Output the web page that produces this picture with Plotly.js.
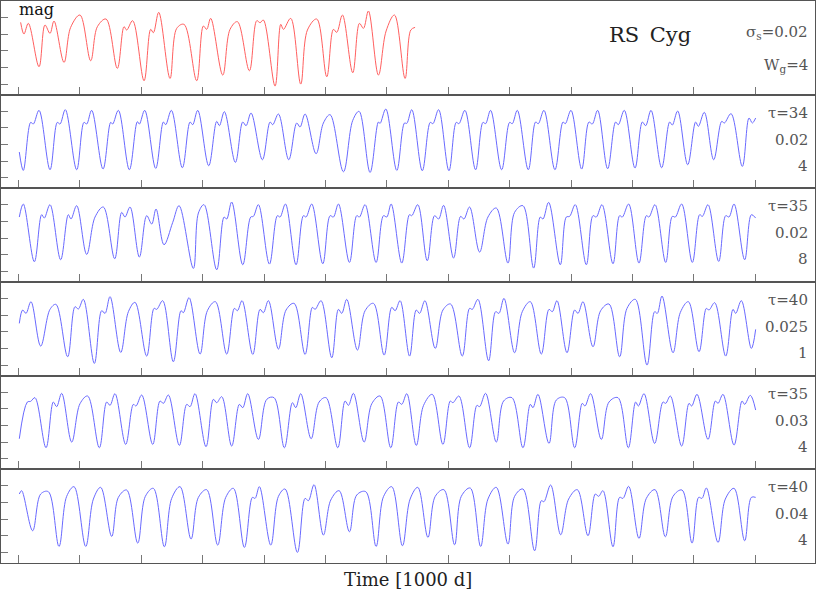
<!DOCTYPE html>
<html><head><meta charset="utf-8">
<script src="https://cdn.plot.ly/plotly-3.0.1.min.js"></script>
<style>html,body{margin:0;padding:0;background:#fff}#chart{width:817px;height:592px}</style>
</head><body><div id="chart"></div>
<script>
// Time in units of 1000 d, brightness in mag (axis reversed)
const tObs = [0.038,0.092,0.163,0.337,0.434,0.516,0.581,0.744,0.852,1.004,1.178,1.287,1.428,1.612,1.721,1.764,1.862,2.047,2.155,2.199,2.286,2.470,2.579,2.698,2.904,3.013,3.067,3.132,3.328,3.447,3.567,3.762,3.882,3.936,3.990,4.180,4.273,4.316,4.435,4.598,4.707,4.859,5.022,5.130,5.185,5.277,5.445,5.554,5.619,5.700,5.863,5.988,6.124,6.297,6.390,6.460];
const mObs = [6.65,7.00,6.68,7.98,6.73,6.98,6.61,7.85,6.80,6.43,7.80,6.78,6.55,8.03,6.78,6.88,6.60,8.40,6.86,6.96,6.35,8.33,6.83,6.71,8.40,6.76,6.86,6.53,8.23,6.86,6.63,8.10,6.60,6.66,6.58,8.56,6.71,6.86,6.53,8.50,6.88,6.55,8.28,6.86,6.95,6.43,8.16,6.68,6.83,6.31,8.23,6.91,6.43,8.33,6.88,6.80];

const tM1 = [0.016,0.081,0.201,0.244,0.337,0.516,0.635,0.679,0.765,0.950,1.069,1.113,1.194,1.379,1.504,1.536,1.629,1.808,1.938,1.971,2.058,2.237,2.362,2.400,2.492,2.671,2.796,2.839,2.921,3.100,3.230,3.274,3.355,3.534,3.654,3.708,3.789,3.974,4.099,4.142,4.235,4.403,4.533,4.587,4.669,4.848,4.967,5.076,5.293,5.445,5.548,5.727,5.863,5.890,5.983,6.162,6.287,6.325,6.406,6.577,6.707,6.750,6.843,7.011,7.130,7.174,7.271,7.445,7.565,7.608,7.689,7.869,7.999,8.042,8.124,8.303,8.422,8.466,8.558,8.737,8.868,8.906,8.998,9.172,9.291,9.345,9.432,9.595,9.725,9.769,9.866,10.040,10.160,10.214,10.301,10.474,10.605,10.648,10.735,10.898,11.028,11.072,11.169,11.321,11.452,11.495,11.604,11.788,11.897,11.951,12.005];
const mM1 = [7.73,8.28,6.84,6.89,6.48,8.26,6.84,6.89,6.46,8.26,6.84,6.89,6.48,8.24,6.84,6.89,6.48,8.26,6.82,6.89,6.48,8.22,6.83,6.91,6.48,8.20,6.83,6.91,6.48,8.14,6.81,6.94,6.52,8.04,6.83,6.94,6.56,7.96,6.83,6.91,6.59,7.96,6.86,6.98,6.59,7.78,6.86,6.61,8.32,6.78,6.51,8.34,6.83,6.87,6.44,8.28,6.86,6.87,6.46,8.29,6.84,6.88,6.46,8.29,6.84,6.88,6.48,8.26,6.84,6.88,6.48,8.26,6.84,6.88,6.48,8.26,6.83,6.88,6.48,8.26,6.83,6.88,6.48,8.24,6.83,6.89,6.48,8.23,6.83,6.91,6.48,8.21,6.83,6.94,6.48,8.20,6.83,6.92,6.50,8.11,6.83,6.96,6.54,7.96,6.81,6.86,6.58,8.16,6.71,6.86,6.71];

const tM2 = [0.016,0.081,0.261,0.380,0.423,0.516,0.689,0.814,0.858,0.950,1.113,1.249,1.384,1.569,1.683,1.737,1.819,1.971,2.090,2.172,2.242,2.372,2.514,2.617,2.850,2.932,3.024,3.230,3.350,3.393,3.474,3.654,3.784,3.827,3.909,4.088,4.218,4.262,4.349,4.522,4.642,4.685,4.777,4.957,5.076,5.130,5.212,5.391,5.510,5.554,5.646,5.825,5.945,5.999,6.070,6.243,6.368,6.406,6.504,6.658,6.777,6.843,6.924,7.087,7.201,7.255,7.347,7.510,7.646,7.782,7.972,8.080,8.216,8.390,8.498,8.542,8.634,8.824,8.922,8.976,9.068,9.248,9.356,9.410,9.503,9.682,9.790,9.834,9.937,10.105,10.225,10.268,10.366,10.540,10.648,10.697,10.800,10.974,11.093,11.137,11.229,11.403,11.517,11.571,11.653,11.826,11.935,12.005];
const mM2 = [6.87,6.48,8.21,6.80,6.90,6.50,8.15,6.80,6.93,6.53,7.99,6.87,6.57,8.12,6.73,6.87,6.57,8.07,6.83,7.08,6.63,7.70,7.03,6.53,8.41,6.75,6.50,8.45,6.87,6.93,6.42,8.30,6.87,6.85,6.50,8.28,6.83,6.87,6.48,8.30,6.83,6.87,6.48,8.27,6.83,6.87,6.48,8.23,6.83,6.87,6.50,8.23,6.83,6.87,6.48,8.25,6.80,6.83,6.50,8.18,6.83,6.93,6.52,8.10,6.85,6.93,6.57,7.92,6.87,6.60,8.25,6.73,6.53,8.40,6.87,6.93,6.43,8.30,6.87,6.85,6.50,8.30,6.83,6.87,6.50,8.27,6.83,6.87,6.48,8.25,6.83,6.87,6.50,8.23,6.85,6.87,6.48,8.23,6.80,6.85,6.50,8.20,6.83,6.87,6.48,8.15,6.80,6.90];

const tM3 = [0.016,0.071,0.125,0.206,0.364,0.516,0.613,0.803,0.923,0.977,1.059,1.238,1.357,1.412,1.493,1.667,1.792,1.900,2.090,2.210,2.253,2.351,2.524,2.649,2.687,2.780,2.959,3.078,3.209,3.393,3.518,3.567,3.643,3.817,3.936,3.990,4.072,4.235,4.359,4.490,4.669,4.788,4.832,4.929,5.103,5.212,5.266,5.347,5.521,5.646,5.782,5.956,6.080,6.135,6.216,6.370,6.479,6.533,6.620,6.788,6.913,7.038,7.228,7.347,7.391,7.483,7.657,7.771,7.825,7.907,8.080,8.205,8.336,8.515,8.640,8.694,8.770,8.933,9.058,9.112,9.193,9.356,9.481,9.617,9.790,9.910,10.046,10.236,10.360,10.404,10.480,10.659,10.779,10.909,11.083,11.202,11.245,11.338,11.517,11.636,11.680,11.772,11.935,12.005];
const mM3 = [7.25,6.85,6.95,6.60,7.93,6.83,6.68,8.25,6.75,6.82,6.53,8.45,6.87,6.95,6.45,8.12,6.90,6.62,8.23,6.80,6.83,6.57,8.40,6.87,6.93,6.48,8.17,6.87,6.60,8.17,6.80,6.87,6.57,8.18,6.83,6.93,6.57,8.02,6.85,6.65,8.18,6.77,6.83,6.57,8.28,6.83,6.95,6.53,8.05,6.87,6.65,8.20,6.77,6.87,6.57,8.23,6.85,6.95,6.57,8.00,6.85,6.67,8.23,6.80,6.83,6.53,8.37,6.90,6.95,6.50,8.13,6.90,6.60,8.17,6.83,6.90,6.57,8.13,6.85,6.95,6.60,7.95,6.87,6.67,8.25,6.80,6.53,8.50,6.90,6.95,6.43,8.13,6.92,6.60,8.10,6.80,6.85,6.63,8.23,6.83,6.95,6.57,8.00,7.43];

const tM4 = [0.016,0.147,0.201,0.271,0.451,0.570,0.624,0.706,0.869,1.004,1.129,1.319,1.439,1.493,1.574,1.748,1.873,1.916,2.009,2.188,2.307,2.362,2.443,2.622,2.742,2.796,2.877,3.056,3.176,3.230,3.312,3.474,3.599,3.654,3.735,3.909,4.045,4.164,4.332,4.463,4.517,4.598,4.767,4.897,5.011,5.201,5.320,5.375,5.456,5.630,5.755,5.890,6.064,6.189,6.243,6.325,6.479,6.598,6.739,6.913,7.033,7.076,7.174,7.347,7.467,7.510,7.608,7.782,7.901,8.037,8.216,8.336,8.379,8.460,8.640,8.759,8.895,9.058,9.182,9.226,9.318,9.492,9.617,9.763,9.932,10.051,10.095,10.187,10.360,10.496,10.540,10.616,10.800,10.920,10.963,11.050,11.229,11.349,11.392,11.473,11.653,11.783,11.826,11.918,12.005];
const mM4 = [7.90,6.80,6.78,6.67,8.17,6.80,6.94,6.54,8.00,6.85,6.62,8.17,6.80,6.90,6.55,8.07,6.87,6.92,6.59,8.07,6.77,6.84,6.59,8.10,6.87,6.94,6.55,8.14,6.72,6.82,6.64,8.12,6.87,6.97,6.55,7.92,6.72,6.67,8.17,6.82,6.97,6.55,7.90,6.80,6.67,8.17,6.77,6.90,6.54,8.00,6.85,6.62,8.17,6.80,6.87,6.55,8.10,6.90,6.57,8.07,6.77,6.82,6.62,8.17,6.90,6.94,6.54,8.00,6.77,6.67,8.17,6.87,6.97,6.57,8.04,6.74,6.67,8.17,6.84,6.92,6.55,7.92,6.80,6.67,8.17,6.80,6.92,6.55,8.04,6.80,6.84,6.62,8.12,6.84,6.92,6.57,7.92,6.77,6.84,6.57,8.09,6.77,6.87,6.60,7.04];

const tM5 = [0.016,0.054,0.233,0.364,0.489,0.662,0.787,0.907,1.097,1.222,1.341,1.520,1.629,1.764,1.944,2.068,2.199,2.378,2.497,2.633,2.812,2.932,3.067,3.246,3.377,3.502,3.681,3.811,3.855,3.925,4.110,4.235,4.343,4.544,4.669,4.723,4.815,4.967,5.087,5.223,5.391,5.510,5.657,5.825,5.945,6.080,6.254,6.379,6.504,6.669,6.788,6.929,7.103,7.212,7.358,7.527,7.646,7.782,7.972,8.080,8.216,8.406,8.515,8.558,8.667,8.830,8.960,9.101,9.275,9.394,9.448,9.519,9.682,9.790,9.845,9.937,10.105,10.225,10.366,10.534,10.659,10.806,10.969,11.077,11.131,11.202,11.392,11.511,11.653,11.826,11.935,12.005];
const mM5 = [6.75,6.65,7.85,6.75,6.68,8.32,6.82,6.53,8.32,6.90,6.55,8.02,6.85,6.63,8.22,6.82,6.58,8.33,6.88,6.53,8.10,6.85,6.62,8.28,6.85,6.58,8.35,6.85,6.88,6.53,8.28,6.82,6.60,8.50,6.88,6.95,6.47,7.98,6.93,6.65,7.88,6.78,6.68,8.32,6.83,6.53,8.30,6.90,6.55,8.05,6.82,6.62,8.27,6.82,6.57,8.32,6.90,6.55,8.25,6.82,6.60,8.45,6.95,6.98,6.48,7.97,6.90,6.62,8.00,6.75,6.82,6.65,8.33,6.85,6.88,6.52,8.08,6.88,6.62,8.03,6.82,6.63,8.22,6.85,6.88,6.57,8.20,6.90,6.58,8.15,6.85,6.85];

const starName = 'RS\u2002Cyg';
const obsSigma = '\u03c3<sub>s</sub>=0.02';
const obsW = 'W<sub>g</sub>=4';
const modelTau = ['\u03c4=34', '\u03c4=35', '\u03c4=40', '\u03c4=35', '\u03c4=40'];
const modelSigma = ['0.02', '0.02', '0.025', '0.03', '0.04'];
const modelW = ['4', '8', '1', '4', '4'];
const yTicks = [6.5, 7.0, 7.5, 8.0, 8.5];
const xTicks = [0,1,2,3,4,5,6,7,8,9,10,11,12];

const series = [[tObs, mObs], [tM1, mM1], [tM2, mM2], [tM3, mM3], [tM4, mM4], [tM5, mM5]];
const FONT = 'DejaVu Serif, Liberation Serif, serif';
const NP = series.length;
const traces = [];
const layout = {
  width: 817, height: 592,
  margin: {l: 1, r: 2, t: 1, b: 29, pad: 0},
  paper_bgcolor: '#fff', plot_bgcolor: '#fff',
  showlegend: false,
  font: {family: FONT, color: '#444'},
  annotations: []
};
series.forEach((s, i) => {
  const xa = 'x' + (i ? i + 1 : ''), ya = 'y' + (i ? i + 1 : '');
  traces.push({
    x: s[0], y: s[1], xaxis: xa, yaxis: ya, type: 'scatter', mode: 'lines',
    line: {color: i === 0 ? 'rgb(255,95,95)' : 'rgb(105,105,255)', width: 1, shape: 'spline', smoothing: 1},
    hoverinfo: 'skip'
  });
  const top = 1 - i / NP, bot = 1 - (i + 1) / NP;
  layout['xaxis' + (i ? i + 1 : '')] = {
    domain: [0, 1], anchor: ya, range: [-0.282, 12.971],
    tickvals: xTicks, ticks: 'inside', ticklen: 8, tickwidth: 1, tickcolor: '#777',
    showticklabels: false, showgrid: false, zeroline: false,
    showline: true, mirror: true, linecolor: '#555', linewidth: 1
  };
  layout['yaxis' + (i ? i + 1 : '')] = {
    domain: [bot, top], anchor: xa, range: [8.817, 6.01],
    tickvals: yTicks, ticks: 'inside', ticklen: 7, tickwidth: 1, tickcolor: '#777',
    showticklabels: false, showgrid: false, zeroline: false,
    showline: true, mirror: true, linecolor: '#555', linewidth: 1
  };
  if (i > 0) {
    const labs = [modelTau[i - 1], modelSigma[i - 1], modelW[i - 1]];
    const ys = [6.55, 7.36, 8.14];
    labs.forEach((txt, k) => layout.annotations.push({
      text: txt, xref: 'paper', yref: ya, x: 0.9935, y: ys[k], xanchor: 'right', yanchor: 'middle',
      showarrow: false, font: {family: FONT, size: 15, color: '#555'}
    }));
  }
});
layout.annotations.push(
  {text: 'mag', xref: 'paper', yref: 'y', x: 0.0195, y: 6.26, xanchor: 'left', yanchor: 'middle', showarrow: false, font: {family: FONT, size: 16, color: '#111'}},
  {text: starName, xref: 'paper', yref: 'y', x: 0.797, y: 7.03, xanchor: 'center', yanchor: 'middle', showarrow: false, font: {family: FONT, size: 21, color: '#222'}},
  {text: obsSigma, xref: 'paper', yref: 'y', x: 0.9935, y: 6.95, xanchor: 'right', yanchor: 'middle', showarrow: false, font: {family: FONT, size: 15, color: '#555'}},
  {text: obsW, xref: 'paper', yref: 'y', x: 0.9935, y: 7.94, xanchor: 'right', yanchor: 'middle', showarrow: false, font: {family: FONT, size: 15, color: '#555'}},
  {text: 'Time [1000 d]', xref: 'paper', yref: 'paper', x: 0.5, y: -0.0285, xanchor: 'center', yanchor: 'middle', showarrow: false, font: {family: FONT, size: 18, color: '#222'}}
);
Plotly.newPlot('chart', traces, layout, {staticPlot: true, displayModeBar: false});
</script></body></html>
